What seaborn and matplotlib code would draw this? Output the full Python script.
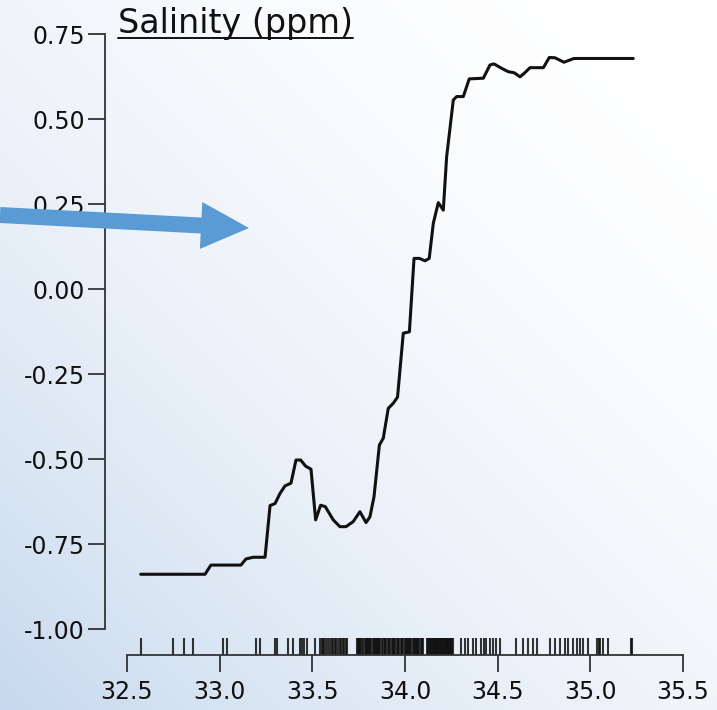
import numpy as np
import pandas as pd
import matplotlib
matplotlib.use("Agg")
import matplotlib.pyplot as plt
import seaborn as sns
from matplotlib.patches import FancyArrow
from matplotlib.lines import Line2D

# Partial dependence of the response on salinity
salinity = [32.574, 32.921, 32.953, 33.115, 33.142, 33.180, 33.245, 33.272, 33.299,
            33.326, 33.353, 33.385, 33.412, 33.437, 33.464, 33.493, 33.518, 33.545,
            33.570, 33.613, 33.649, 33.682, 33.721, 33.757, 33.790, 33.811, 33.833,
            33.862, 33.883, 33.910, 33.937, 33.960, 33.991, 34.024, 34.049, 34.078,
            34.108, 34.131, 34.153, 34.180, 34.207, 34.225, 34.261, 34.279, 34.315,
            34.347, 34.423, 34.459, 34.481, 34.522, 34.558, 34.590, 34.621, 34.643,
            34.675, 34.747, 34.779, 34.810, 34.858, 34.912, 35.232]
effect = [-0.839, -0.839, -0.812, -0.812, -0.794, -0.789, -0.789, -0.637, -0.631,
          -0.601, -0.579, -0.571, -0.503, -0.503, -0.521, -0.530, -0.679, -0.636,
          -0.640, -0.679, -0.699, -0.699, -0.684, -0.655, -0.687, -0.670, -0.611,
          -0.459, -0.439, -0.351, -0.336, -0.318, -0.130, -0.126, 0.090, 0.090,
          0.083, 0.090, 0.193, 0.254, 0.232, 0.389, 0.556, 0.566, 0.566,
          0.618, 0.620, 0.659, 0.662, 0.649, 0.639, 0.636, 0.624, 0.634,
          0.651, 0.651, 0.681, 0.680, 0.667, 0.678, 0.678]

# Observed salinity values (rug)
observed = [32.574, 32.750, 32.808, 32.858, 33.016, 33.041, 33.196, 33.218, 33.299,
            33.311, 33.370, 33.397, 33.435, 33.445, 33.455, 33.470, 33.515,
            33.540, 33.550, 33.560, 33.565, 33.575, 33.585, 33.595, 33.605, 33.610,
            33.620, 33.630, 33.640, 33.648, 33.655, 33.665, 33.670, 33.680, 33.685,
            33.740, 33.745, 33.750, 33.755, 33.760, 33.768, 33.775, 33.782, 33.790,
            33.795, 33.800, 33.805, 33.810, 33.818, 33.825, 33.832, 33.840, 33.845,
            33.850, 33.855, 33.860, 33.868, 33.875, 33.882, 33.890, 33.895, 33.900,
            33.908, 33.915, 33.922, 33.930, 33.935, 33.940, 33.948, 33.955, 33.962,
            33.970, 33.978, 33.985, 33.992, 34.000, 34.005, 34.010, 34.015, 34.020,
            34.028, 34.035, 34.042, 34.050, 34.055, 34.060, 34.065, 34.070, 34.078,
            34.085, 34.090, 34.095,
            34.120, 34.125, 34.130, 34.135, 34.140, 34.145, 34.150, 34.155, 34.160,
            34.165, 34.170, 34.175, 34.180, 34.185, 34.190, 34.195, 34.200, 34.205,
            34.210, 34.215, 34.220, 34.225, 34.230, 34.235, 34.240, 34.245, 34.250,
            34.255, 34.260,
            34.300, 34.325, 34.340, 34.365, 34.385, 34.410, 34.425, 34.440, 34.460,
            34.475, 34.490, 34.515, 34.600, 34.637, 34.664, 34.691, 34.713,
            34.783, 34.810, 34.837, 34.864, 34.880, 34.907, 34.928, 34.945, 34.961,
            34.988, 35.036, 35.045, 35.052, 35.068, 35.096, 35.222, 35.228]

x_ticks = [32.5, 33.0, 33.5, 34.0, 34.5, 35.0, 35.5]
y_ticks = [-1.00, -0.75, -0.50, -0.25, 0.00, 0.25, 0.50, 0.75]
title = "Salinity (ppm)"

sns.set_style("ticks")
plt.rcParams['font.family'] = ['DejaVu Sans']
plt.rcParams['axes.unicode_minus'] = False

W, H = 717, 710
fig = plt.figure(figsize=(W / 100, H / 100), dpi=100)

# Soft blue-to-white backdrop
bg = fig.add_axes([0, 0, 1, 1], zorder=0)
yy, xx = np.mgrid[0:1:200j, 0:1:200j]
t = ((1 - xx) * W + yy * H) / (W + H)
t = np.clip(t, 0, 1) ** 2.0
blue = np.array([0.78, 0.85, 0.93])
img = (1 - t[..., None]) * np.ones(3) + t[..., None] * blue
bg.imshow(img, extent=[0, 1, 0, 1], origin="upper", aspect="auto",
          interpolation="bilinear")
bg.set_axis_off()

# Main plotting axes
px_left, px_right, px_bottom, px_top = 105, 700, 654.5, 20
ax = fig.add_axes([px_left / W, 1 - px_bottom / H,
                   (px_right - px_left) / W, (px_bottom - px_top) / H], zorder=1)
ax.patch.set_alpha(0)

df = pd.DataFrame({"salinity": salinity, "effect": effect})
sns.lineplot(data=df, x="salinity", y="effect", ax=ax, sort=False,
             estimator=None, color="#111111", linewidth=2.2)
rug_h = 17 / (px_bottom - px_top)
sns.rugplot(x=observed, ax=ax, height=rug_h, color="#111111", linewidth=1.5,
            alpha=0.85, expand_margins=False)

ax.set_xlim(32.3813, 35.5923)
ax.set_ylim(-1.0750, 0.7912)
ax.set_xticks(x_ticks)
ax.set_xticklabels([f"{v:.1f}" for v in x_ticks])
ax.set_yticks(y_ticks)
ax.set_yticklabels([f"{v:.2f}" for v in y_ticks])
ax.set_xlabel("")
ax.set_ylabel("")
for side in ("top", "right"):
    ax.spines[side].set_visible(False)
ax.spines["left"].set_bounds(-1.0, 0.75)
ax.spines["bottom"].set_bounds(32.5, 35.5)
for side in ("left", "bottom"):
    ax.spines[side].set_color("#333333")
    ax.spines[side].set_linewidth(1.3)
ax.tick_params(axis="both", length=12.5, width=1.3, color="#333333",
               labelsize=17, labelcolor="#111111")
ax.tick_params(axis="y", pad=2)
ax.tick_params(axis="x", pad=6)

# Underlined panel title
ttl = fig.text(118 / W, 1 - 33 / H, title, fontsize=24, ha="left",
               va="baseline", color="#111111")
fig.canvas.draw()
bb = ttl.get_window_extent(renderer=fig.canvas.get_renderer())
uy = 1 - 38 / H
fig.add_artist(Line2D([bb.x0 / W, bb.x1 / W], [uy, uy], transform=fig.transFigure,
                      color="#111111", linewidth=1.4))

# Pointer arrow
ov = fig.add_axes([0, 0, 1, 1], zorder=5)
ov.set_xlim(0, W)
ov.set_ylim(H, 0)
ov.set_axis_off()
ov.patch.set_alpha(0)
ov.add_patch(FancyArrow(0, 215, 249, 13, width=16, head_width=47,
                        head_length=48, length_includes_head=True,
                        color="#5b9bd5", linewidth=0))

fig.savefig("out.png", dpi=100)
